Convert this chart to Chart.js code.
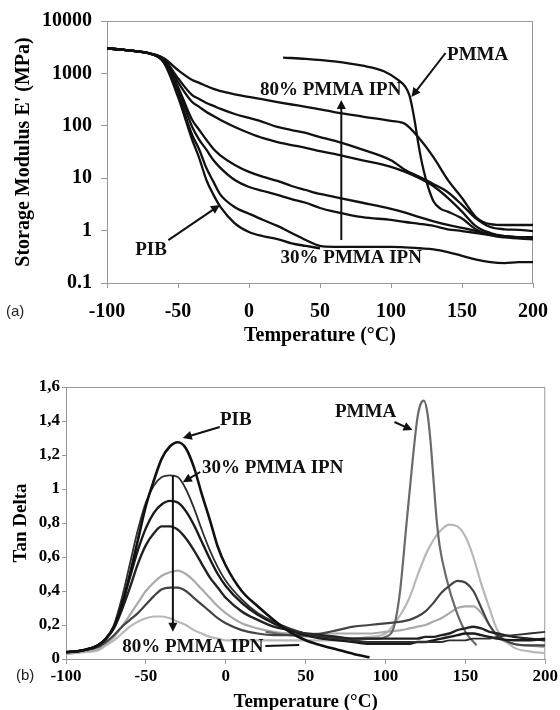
<!DOCTYPE html>
<html>
<head>
<meta charset="utf-8">
<script src="https://cdn.jsdelivr.net/npm/chart.js@4.4.1/dist/chart.umd.min.js"></script>
<style>
  html, body { margin: 0; padding: 0; background: #fff; overflow: hidden; }
  #wrap { position: relative; width: 560px; height: 710px; }
  canvas { position: absolute; left: 0; }
  #graficoModulo { top: 0; }
  #graficoTan { top: 350px; }
  .painel { position: absolute; font: 15px "Liberation Sans", Arial, sans-serif; color: #222; line-height: 16px; }
</style>
</head>
<body>
<div id="wrap">
  <canvas id="graficoModulo" width="560" height="350"></canvas>
  <canvas id="graficoTan" width="560" height="380"></canvas>
  <div class="painel" style="left:6px; top:303px;">(a)</div>
  <div class="painel" style="left:16px; top:667px;">(b)</div>
</div>
<script>
// (a) storage modulus, MPa
const tempA = [-100, -90, -80, -70, -60, -50, -40, -35, -30, -25, -20, -10, 0, 10, 20, 30, 40, 50, 60, 80, 100, 110, 120, 130, 140, 150, 160, 170, 180, 190, 200];
const mod80 = [3000, 2850, 2650, 2400, 1950, 1160, 750, 660, 575, 505, 460, 400, 355, 318, 284, 255, 230, 205, 183, 150, 124, 108, 57, 25, 9.3, 4.2, 1.8, 1.33, 1.28, 1.28, 1.28];
const mod70 = [3000, 2850, 2650, 2400, 1900, 810, 385, 325, 272, 240, 210, 168, 141, 118, 95, 83, 73, 61, 52, 35, 22, 14.3, 10.6, 7.7, 5.4, 3.1, 1.7, 1.17, 1.06, 1.03, 0.98];
const mod60 = [3000, 2850, 2650, 2400, 1850, 680, 284, 230, 183, 154, 129, 95, 73, 58, 49, 43, 38, 33, 29, 22, 16.5, 13.2, 10, 7.0, 4.2, 2.3, 1.2, 0.9, 0.78, 0.75, 0.75];
const mod50 = [3000, 2850, 2650, 2400, 1750, 550, 129, 83, 54, 36, 27, 17.9, 13.2, 10.6, 8.9, 7.1, 5.95, 5.0, 4.4, 3.4, 2.6, 2.2, 1.8, 1.5, 1.28, 1.13, 0.98, 0.85, 0.78, 0.75, 0.72];
const mod40 = [3000, 2850, 2650, 2400, 1700, 480, 95, 54, 35, 22, 15.6, 9.25, 6.8, 5.7, 4.8, 4.0, 3.4, 2.7, 2.3, 1.8, 1.6, 1.46, 1.35, 1.23, 1.06, 0.98, 0.9, 0.82, 0.78, 0.75, 0.75];
const mod30 = [3000, 2850, 2650, 2400, 1650, 400, 67, 35, 15.6, 8.5, 4.8, 2.8, 2.1, 1.59, 1.23, 0.9, 0.66, 0.51, 0.49, 0.49, 0.49, 0.48, 0.46, 0.44, 0.39, 0.33, 0.28, 0.25, 0.24, 0.25, 0.25];
const modPIB = [3000, 2850, 2650, 2400, 1600, 355, 54, 24, 9.25, 4.8, 2.8, 1.38, 0.94, 0.78, 0.69, 0.57, 0.51, 0.46, null, null, null, null, null, null, null, null, null, null, null, null, null];
const tempPmmaA = [24, 40, 60, 80, 95, 105, 110, 113, 115, 117, 119, 121, 123, 126, 130, 135, 140, 150, 160, 170, 180, 200];
const modPMMA = [2000, 1900, 1700, 1400, 1100, 750, 560, 380, 220, 110, 50, 25, 14, 7, 3.6, 2.6, 2.3, 1.7, 1.05, 0.82, 0.74, 0.68];
const modTicks = [0.1, 1, 10, 100, 1000, 10000];

// (b) tan delta
const tempB = [-100, -90, -80, -75, -70, -65, -60, -55, -50, -45, -40, -35, -30, -25, -20, -15, -10, -5, 0, 10, 20, 30, 40, 50, 60, 70, 80, 90, 100, 110, 115, 120, 125, 130, 135, 140, 145, 150, 155, 160, 165, 170, 180, 190, 200];
const tanPIB = [0.04, 0.05, 0.08, 0.12, 0.19, 0.32, 0.5, 0.7, 0.9, 1.05, 1.18, 1.25, 1.275, 1.24, 1.13, 0.97, 0.82, 0.66, 0.55, 0.4, 0.31, 0.23, 0.16, 0.11, 0.08, 0.055, 0.03, 0.01, null, null, null, null, null, null, null, null, null, null, null, null, null, null, null, null, null];
const tan30 = [0.04, 0.05, 0.08, 0.12, 0.2, 0.36, 0.56, 0.76, 0.92, 1.02, 1.07, 1.08, 1.07, 1.0, 0.89, 0.76, 0.64, 0.54, 0.46, 0.35, 0.27, 0.22, 0.18, 0.15, 0.13, 0.12, 0.11, 0.1, 0.1, 0.1, 0.1, 0.1, 0.1, 0.1, 0.1, 0.11, 0.11, 0.11, 0.12, 0.12, 0.12, 0.13, 0.14, 0.15, 0.16];
const tan40 = [0.04, 0.05, 0.08, 0.12, 0.19, 0.32, 0.48, 0.64, 0.77, 0.86, 0.91, 0.93, 0.92, 0.87, 0.79, 0.69, 0.59, 0.5, 0.43, 0.33, 0.26, 0.21, 0.17, 0.14, 0.12, 0.11, 0.1, 0.09, 0.09, 0.09, 0.09, 0.1, 0.1, 0.11, 0.12, 0.13, 0.14, 0.15, 0.15, 0.14, 0.13, 0.12, 0.11, 0.11, 0.12];
const tan50 = [0.04, 0.05, 0.08, 0.12, 0.18, 0.29, 0.42, 0.56, 0.67, 0.74, 0.78, 0.78, 0.76, 0.71, 0.64, 0.56, 0.48, 0.42, 0.36, 0.28, 0.23, 0.19, 0.17, 0.15, 0.14, 0.13, 0.12, 0.12, 0.12, 0.12, 0.12, 0.12, 0.13, 0.13, 0.14, 0.15, 0.17, 0.18, 0.19, 0.18, 0.16, 0.15, 0.13, 0.12, 0.11];
const tan60 = [0.03, 0.04, 0.06, 0.09, 0.13, 0.19, 0.26, 0.33, 0.4, 0.45, 0.49, 0.51, 0.52, 0.5, 0.46, 0.41, 0.36, 0.31, 0.27, 0.21, 0.18, 0.16, 0.15, 0.15, 0.15, 0.15, 0.15, 0.15, 0.16, 0.17, 0.18, 0.19, 0.2, 0.22, 0.24, 0.27, 0.3, 0.31, 0.31, 0.27, 0.2, 0.13, 0.09, 0.08, 0.07];
const tan70 = [0.04, 0.05, 0.07, 0.1, 0.14, 0.19, 0.23, 0.27, 0.32, 0.37, 0.41, 0.42, 0.42, 0.4, 0.36, 0.32, 0.28, 0.24, 0.21, 0.17, 0.15, 0.14, 0.14, 0.14, 0.15, 0.17, 0.19, 0.2, 0.21, 0.22, 0.23, 0.25, 0.28, 0.33, 0.39, 0.43, 0.46, 0.45, 0.4, 0.3, 0.2, 0.14, 0.09, 0.08, 0.08];
const tan80 = [0.03, 0.04, 0.05, 0.08, 0.11, 0.15, 0.19, 0.22, 0.24, 0.25, 0.25, 0.24, 0.22, 0.2, 0.17, 0.15, 0.13, 0.12, 0.11, 0.11, 0.11, 0.11, 0.11, 0.11, 0.11, 0.11, 0.12, 0.13, 0.15, 0.27, 0.36, 0.49, 0.61, 0.7, 0.76, 0.79, 0.78, 0.72, 0.6, 0.44, 0.3, 0.17, 0.07, 0.045, 0.035];
const tempPmmaB = [25, 40, 60, 80, 95, 100, 105, 109, 113, 117, 120, 122, 124, 126, 128, 130, 132, 134, 138, 144, 150, 157];
const tanPMMA = [0.16, 0.14, 0.13, 0.12, 0.12, 0.13, 0.18, 0.39, 0.78, 1.17, 1.42, 1.5, 1.52, 1.46, 1.3, 1.06, 0.82, 0.66, 0.48, 0.29, 0.16, 0.08];
const tanTicks = [0, 0.2, 0.4, 0.6, 0.8, 1, 1.2, 1.4, 1.6];
const tempTicks = [-100, -50, 0, 50, 100, 150, 200];

const serif = '"Liberation Serif", "Times New Roman", serif';

function pares(xs, ys) {
    return xs.map((x, i) => ({ x: x, y: ys[i] })).filter(p => p.y !== null);
}

function serie(xs, ys, cor, largura) {
    return {
        data: pares(xs, ys),
        borderColor: cor,
        borderWidth: largura,
        pointRadius: 0,
        fill: false,
        cubicInterpolationMode: 'monotone'
    };
}

// frame + labels and arrows, placed in data coordinates
function anotacoes(textos, setas) {
    return {
        id: 'anotacoes',
        beforeDatasetsDraw(chart) {
            const { ctx, chartArea: a } = chart;
            ctx.save();
            ctx.strokeStyle = '#999';
            ctx.lineWidth = 1;
            ctx.strokeRect(a.left + 0.5, a.top + 0.5, a.right - a.left - 1, a.bottom - a.top);
            ctx.restore();
        },
        afterDraw(chart) {
            const { ctx, scales: { x, y } } = chart;
            ctx.save();
            ctx.fillStyle = '#111';
            ctx.strokeStyle = '#111';
            ctx.lineWidth = 2;
            ctx.font = 'bold 19px ' + serif;
            ctx.textAlign = 'center';
            ctx.textBaseline = 'middle';
            textos.forEach(t => {
                ctx.fillText(t.texto, x.getPixelForValue(t.x), y.getPixelForValue(t.y));
            });
            setas.forEach(s => {
                const x0 = x.getPixelForValue(s.de[0]), y0 = y.getPixelForValue(s.de[1]);
                const x1 = x.getPixelForValue(s.para[0]), y1 = y.getPixelForValue(s.para[1]);
                const ang = Math.atan2(y1 - y0, x1 - x0);
                const cab = s.ponta === false ? 0 : 9;
                ctx.beginPath();
                ctx.moveTo(x0, y0);
                ctx.lineTo(x1 - Math.cos(ang) * cab * 0.8, y1 - Math.sin(ang) * cab * 0.8);
                ctx.stroke();
                if (cab) {
                    ctx.beginPath();
                    ctx.moveTo(x1, y1);
                    ctx.lineTo(x1 - cab * Math.cos(ang) + 4.5 * Math.sin(ang), y1 - cab * Math.sin(ang) - 4.5 * Math.cos(ang));
                    ctx.lineTo(x1 - cab * Math.cos(ang) - 4.5 * Math.sin(ang), y1 - cab * Math.sin(ang) + 4.5 * Math.cos(ang));
                    ctx.closePath();
                    ctx.fill();
                }
            });
            ctx.restore();
        }
    };
}

document.addEventListener('DOMContentLoaded', function() {
    const preto = '#111';

    new Chart(document.getElementById('graficoModulo'), {
        type: 'line',
        data: {
            datasets: [
                serie(tempPmmaA, modPMMA, preto, 2.3),
                serie(tempA, mod80, preto, 2.3),
                serie(tempA, mod70, preto, 2.3),
                serie(tempA, mod60, preto, 2.3),
                serie(tempA, mod50, preto, 2.3),
                serie(tempA, mod40, preto, 2.3),
                serie(tempA, mod30, preto, 2.3),
                serie(tempA, modPIB, preto, 2.3)
            ]
        },
        options: {
            responsive: false,
            animation: false,
            layout: { padding: { top: 21, right: 15, left: 0, bottom: 0 } },
            plugins: { legend: { display: false }, tooltip: { enabled: false } },
            scales: {
                x: {
                    type: 'linear',
                    min: -100,
                    max: 200,
                    afterBuildTicks: s => { s.ticks = tempTicks.map(v => ({ value: v })); },
                    afterFit: s => { s.height = 67; },
                    grid: { drawOnChartArea: false, tickLength: 5, color: '#999' },
                    border: { color: '#999' },
                    ticks: {
                        padding: 12,
                        color: '#000',
                        callback: v => String(v),
                        font: { family: serif, size: 20, weight: 'bold' }
                    },
                    title: {
                        display: true,
                        text: 'Temperature (°C)',
                        color: '#000',
                        padding: { top: 0, bottom: 2 },
                        font: { family: serif, size: 20, weight: 'bold' }
                    }
                },
                y: {
                    type: 'logarithmic',
                    min: 0.1,
                    max: 10000,
                    afterBuildTicks: s => { s.ticks = modTicks.map(v => ({ value: v })); },
                    afterFit: s => { s.width = 107; },
                    grid: { drawOnChartArea: false, tickLength: 6, color: '#999' },
                    border: { color: '#999' },
                    ticks: {
                        padding: 9,
                        color: '#000',
                        autoSkip: false,
                        callback: v => String(v),
                        font: { family: serif, size: 20, weight: 'bold' }
                    },
                    title: {
                        display: true,
                        text: "Storage Modulus E' (MPa)",
                        color: '#000',
                        padding: { top: 12, bottom: 0 },
                        font: { family: serif, size: 20, weight: 'bold' }
                    }
                }
            }
        },
        plugins: [anotacoes(
            [
                { texto: 'PMMA', x: 161, y: 2240 },
                { texto: '80% PMMA IPN', x: 57.5, y: 482 },
                { texto: '30% PMMA IPN', x: 72, y: 0.3 },
                { texto: 'PIB', x: -69, y: 0.43 }
            ],
            [
                { de: [138.4, 2450], para: [114.4, 355] },
                { de: [65, 0.66], para: [65, 311] },
                { de: [-56.8, 0.66], para: [-20.5, 3.08] }
            ]
        )]
    });

    new Chart(document.getElementById('graficoTan'), {
        type: 'line',
        data: {
            datasets: [
                serie(tempB, tanPIB, '#111', 2.6),
                serie(tempB, tan30, '#2e2e2e', 1.8),
                serie(tempB, tan40, '#1a1a1a', 2.4),
                serie(tempB, tan50, '#222', 2.4),
                serie(tempB, tan70, '#444', 2.2),
                serie(tempPmmaB, tanPMMA, '#6a6a6a', 2.2),
                serie(tempB, tan60, '#aaa', 2.2),
                serie(tempB, tan80, '#b8b8b8', 2.2)
            ]
        },
        options: {
            responsive: false,
            animation: false,
            layout: { padding: { top: 37, right: 14, left: 0, bottom: 0 } },
            plugins: { legend: { display: false }, tooltip: { enabled: false } },
            scales: {
                x: {
                    type: 'linear',
                    min: -100,
                    max: 200,
                    afterBuildTicks: s => { s.ticks = tempTicks.map(v => ({ value: v })); },
                    afterFit: s => { s.height = 71; },
                    grid: { drawOnChartArea: false, tickLength: 5, color: '#999' },
                    border: { color: '#999' },
                    ticks: {
                        padding: 2,
                        color: '#000',
                        callback: v => String(v),
                        font: { family: serif, size: 17, weight: 'bold' }
                    },
                    title: {
                        display: true,
                        text: 'Temperature (°C)',
                        color: '#000',
                        padding: { top: 0, bottom: 17 },
                        font: { family: serif, size: 19, weight: 'bold' }
                    }
                },
                y: {
                    min: 0,
                    max: 1.6,
                    afterBuildTicks: s => { s.ticks = tanTicks.map(v => ({ value: v })); },
                    afterFit: s => { s.width = 66; },
                    grid: { drawOnChartArea: false, tickLength: 4, color: '#999' },
                    border: { color: '#999' },
                    ticks: {
                        padding: 2,
                        color: '#000',
                        callback: v => String(Math.round(v * 10) / 10).replace('.', ','),
                        font: { family: serif, size: 17, weight: 'bold' }
                    },
                    title: {
                        display: true,
                        text: 'Tan Delta',
                        color: '#000',
                        padding: { top: 10, bottom: 0 },
                        font: { family: serif, size: 19, weight: 'bold' }
                    }
                }
            }
        },
        plugins: [anotacoes(
            [
                { texto: 'PIB', x: 6.25, y: 1.406 },
                { texto: '30% PMMA IPN', x: 29.4, y: 1.124 },
                { texto: '80% PMMA IPN', x: -20.6, y: 0.07 },
                { texto: 'PMMA', x: 87.5, y: 1.453 }
            ],
            [
                { de: [-3.75, 1.365], para: [-26.9, 1.3] },
                { de: [-16, 1.1], para: [-26.9, 1.04] },
                { de: [-33.1, 1.08], para: [-33.1, 0.16] },
                { de: [24.8, 0.076], para: [46, 0.082], ponta: false },
                { de: [105.6, 1.394], para: [116.9, 1.347] }
            ]
        )]
    });
});
</script>
</body>
</html>
